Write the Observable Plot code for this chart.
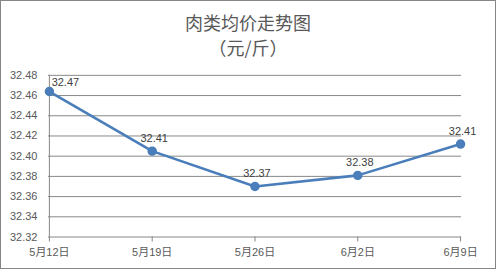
<!DOCTYPE html>
<html><head><meta charset="utf-8">
<script src="https://cdn.jsdelivr.net/npm/d3@7"></script>
<script src="https://cdn.jsdelivr.net/npm/@observablehq/plot@0.6"></script>
<style>
body{margin:0;background:#fff;}
#wrap{position:relative;width:496px;height:269px;box-sizing:border-box;border:1px solid #868686;overflow:hidden;font-family:"Liberation Sans","Noto Sans CJK SC",sans-serif;}
.t{position:absolute;left:0;width:494px;text-align:center;color:#595959;font-family:"Noto Sans CJK SC",sans-serif;font-size:18px;line-height:18px;}
#chart{position:absolute;left:-1px;top:-1px;}
</style></head><body>
<div id="wrap">
<div class="t" style="top:12px">肉类均价走势图</div>
<div class="t" style="top:37px">（元/斤）</div>
<div id="chart"></div>
</div>
<script>
const dates = ["5月12日","5月19日","5月26日","6月2日","6月9日"];
const prices = [32.464, 32.405, 32.370, 32.381, 32.412];
const labels = ["32.47","32.41","32.37","32.38","32.41"];
const yTicks = [32.32,32.34,32.36,32.38,32.40,32.42,32.44,32.46,32.48];

const data = dates.map((d,i)=>({d, v:prices[i], l:labels[i], i}));
const blue = "#4a7ebb";
const grid = "#898989";

const chart = Plot.plot({
  width: 496, height: 269,
  marginTop: 75, marginBottom: 32, marginLeft: 48, marginRight: 34,
  style: {fontFamily: '"Liberation Sans","Noto Sans CJK SC",sans-serif', fontSize: "11px", color: "#595959", background: "transparent"},
  x: {type: "point", domain: dates, padding: 0, label: null},
  y: {domain: [32.32, 32.48], label: null},
  marks: [
    Plot.ruleY(yTicks.slice(1), {stroke: grid, strokeWidth: 1}),
    Plot.ruleX([dates[0]], {stroke: grid, strokeWidth: 1}),
    Plot.ruleY([32.32], {stroke: "#868686", strokeWidth: 1}),
    Plot.axisY({ticks: yTicks, tickSize: 0, tickPadding: 11, tickFormat: d => d.toFixed(2), fill: "#595959", fontSize: 11}),
    Plot.axisX({tickSize: 5, tickPadding: 6, stroke: "#868686", fill: "#595959", fontSize: 11}),
    Plot.line(data, {x: "d", y: "v", stroke: blue, strokeWidth: 2.6}),
    Plot.dot(data, {x: "d", y: "v", r: 4, fill: blue, stroke: blue}),
    Plot.text(data.filter(p => p.i > 0), {x: "d", y: "v", text: "l", dy: -13, dx: 2, fill: "#404040", fontSize: 11}),
    Plot.text(data.filter(p => p.i === 0), {x: "d", y: "v", text: "l", dy: -9, dx: 16, fill: "#404040", fontSize: 11})
  ]
});
document.getElementById("chart").appendChild(chart);
</script>
</body></html>
